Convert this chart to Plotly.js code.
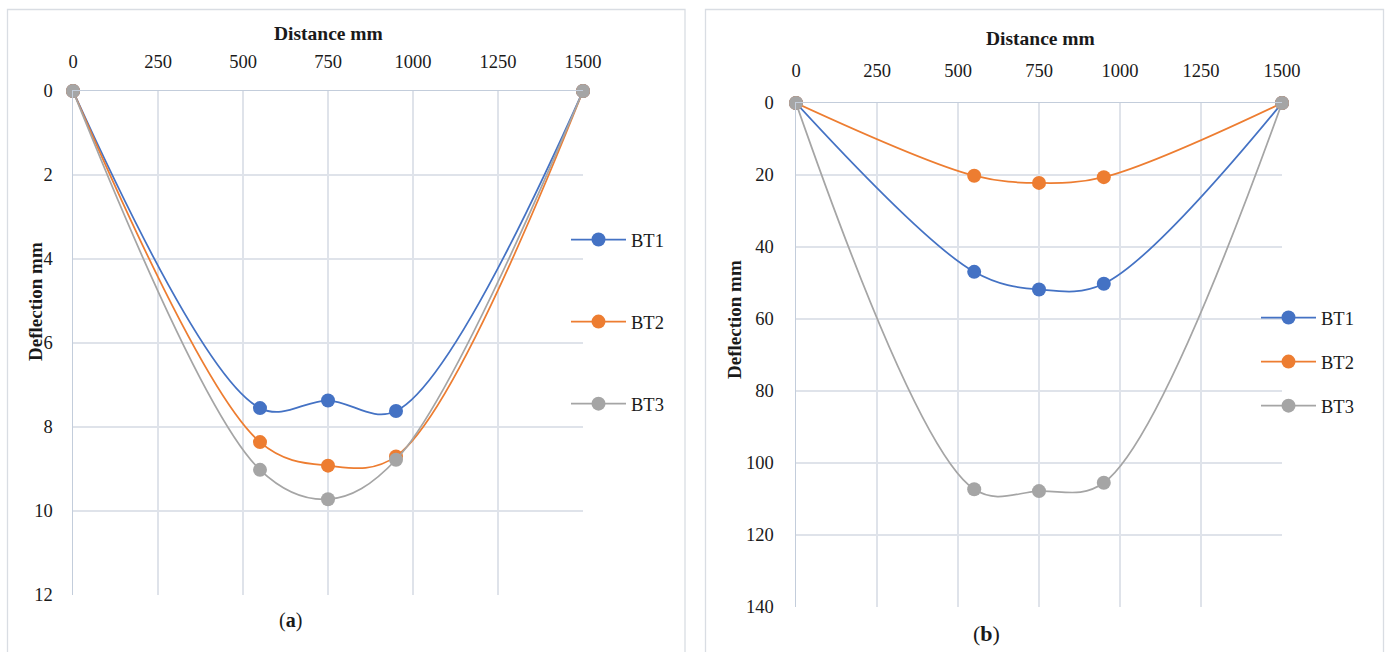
<!DOCTYPE html>
<html>
<head>
<meta charset="utf-8">
<script src="https://cdn.plot.ly/plotly-3.0.1.min.js"></script>
<style>html,body{margin:0;padding:0;background:#fff;}#chart{width:1389px;height:652px;}</style>
</head>
<body>
<div id="chart"></div>
<script>
// ---- data ----
const distance = [0, 550, 750, 950, 1500];
const seriesNames = ['BT1', 'BT2', 'BT3'];
const bt1A = [0, 7.55, 7.37, 7.62, 0];
const bt2A = [0, 8.36, 8.92, 8.70, 0];
const bt3A = [0, 9.02, 9.72, 8.78, 0];
const bt1B = [0, 46.9, 51.8, 50.2, 0];
const bt2B = [0, 20.2, 22.2, 20.6, 0];
const bt3B = [0, 107.3, 107.8, 105.5, 0];
const xTicksA = [0, 250, 500, 750, 1000, 1250, 1500];
const yTicksA = [0, 2, 4, 6, 8, 10, 12];
const yTicksB = [0, 20, 40, 60, 80, 100, 120, 140];

const colors = ['#4472C4', '#ED7D31', '#A5A5A5'];
const FONT = '"Liberation Serif", "Times New Roman", serif';
const W = 1389, H = 652;
const px = v => v / W;
const py = v => 1 - v / H;

function mk(y, i, xa, ya, leg) {
  return {
    x: distance, y: y, name: seriesNames[i], type: 'scatter', mode: 'lines+markers',
    xaxis: xa, yaxis: ya, legend: leg, legendgroup: leg + i, cliponaxis: false,
    line: {color: colors[i], width: 1.75, shape: 'spline', smoothing: 1},
    marker: {color: colors[i], size: 14, line: {width: 0}},
    hoverinfo: 'x+y'
  };
}
const traces = [
  mk(bt1A, 0, 'x', 'y', 'legend'), mk(bt2A, 1, 'x', 'y', 'legend'), mk(bt3A, 2, 'x', 'y', 'legend'),
  mk(bt1B, 0, 'x2', 'y2', 'legend2'), mk(bt2B, 1, 'x2', 'y2', 'legend2'), mk(bt3B, 2, 'x2', 'y2', 'legend2')
];

const tickFont = {family: FONT, size: 18.5, color: '#1a1a1a'};
const gridC = '#dfe3ea', lineC = '#c3cddb';
function xax(dom, ya, standoff) {
  return {domain: dom, anchor: ya, range: [0, 1500], side: 'top', tickvals: xTicksA,
    ticktext: xTicksA.map(String), showgrid: true, gridcolor: gridC, gridwidth: 1.5,
    showline: true, linecolor: lineC, linewidth: 1.5, zeroline: false, ticks: '',
    tickfont: tickFont, ticklabelstandoff: standoff, fixedrange: true};
}
function yax(dom, xa, rng, vals, standoff) {
  return {domain: dom, anchor: xa, range: rng, tickvals: vals, ticktext: vals.map(String),
    showgrid: true, gridcolor: gridC, gridwidth: 1.5, showline: true, linecolor: lineC,
    linewidth: 1.5, zeroline: false, ticks: '', tickfont: tickFont, ticklabelstandoff: standoff,
    fixedrange: true};
}

const legFont = {family: FONT, size: 18.5, color: '#1a1a1a'};
const layout = {
  width: W, height: H, margin: {l: 0, r: 0, t: 0, b: 0},
  paper_bgcolor: '#ffffff', plot_bgcolor: '#ffffff', showlegend: true,
  font: {family: FONT, size: 18, color: '#1a1a1a'},
  xaxis: xax([px(73), px(583)], 'y', 14),
  yaxis: yax([py(595), py(91)], 'x', [12, 0], yTicksA, 15),
  xaxis2: xax([px(796), px(1282)], 'y2', 17),
  yaxis2: yax([py(607), py(103)], 'x2', [140, 0], yTicksB, 17),
  legend: {x: px(566), y: py(221), xanchor: 'left', yanchor: 'top', bgcolor: 'rgba(0,0,0,0)',
    font: legFont, itemwidth: 55, tracegroupgap: 55, traceorder: 'grouped'},
  legend2: {x: px(1256), y: py(299), xanchor: 'left', yanchor: 'top', bgcolor: 'rgba(0,0,0,0)',
    font: legFont, itemwidth: 55, tracegroupgap: 17, traceorder: 'grouped'},
  shapes: [
    {type: 'rect', xref: 'paper', yref: 'paper', x0: px(7.5), x1: px(685), y0: -0.1, y1: py(9.5),
     line: {color: '#d9dde3', width: 1.3}, layer: 'below'},
    {type: 'rect', xref: 'paper', yref: 'paper', x0: px(705.5), x1: px(1383.5), y0: -0.1, y1: py(9.5),
     line: {color: '#d9dde3', width: 1.3}, layer: 'below'}
  ],
  annotations: [
    {text: '<b>Distance mm</b>', xref: 'paper', yref: 'paper', x: px(328), y: py(33), showarrow: false,
     xanchor: 'center', yanchor: 'middle', font: {family: FONT, size: 19.5, color: '#1a1a1a'}},
    {text: '<b>Distance mm</b>', xref: 'paper', yref: 'paper', x: px(1040), y: py(38), showarrow: false,
     xanchor: 'center', yanchor: 'middle', font: {family: FONT, size: 19.5, color: '#1a1a1a'}},
    {text: '<b>Deflection mm</b>', xref: 'paper', yref: 'paper', x: px(35), y: py(302), showarrow: false,
     textangle: -90, xanchor: 'center', yanchor: 'middle', font: {family: FONT, size: 19, color: '#1a1a1a'}},
    {text: '<b>Deflection mm</b>', xref: 'paper', yref: 'paper', x: px(734), y: py(320), showarrow: false,
     textangle: -90, xanchor: 'center', yanchor: 'middle', font: {family: FONT, size: 19, color: '#1a1a1a'}},
    {text: '(<b>a</b>)', xref: 'paper', yref: 'paper', x: px(290), y: py(620), showarrow: false,
     xanchor: 'center', yanchor: 'middle', font: {family: FONT, size: 20, color: '#1a1a1a'}},
    {text: '(<b>b</b>)', xref: 'paper', yref: 'paper', x: px(986), y: py(633), showarrow: false,
     xanchor: 'center', yanchor: 'middle', font: {family: FONT, size: 22, color: '#1a1a1a'}}
  ]
};

Plotly.newPlot('chart', traces, layout, {displayModeBar: false, staticPlot: true});
</script>
</body>
</html>
